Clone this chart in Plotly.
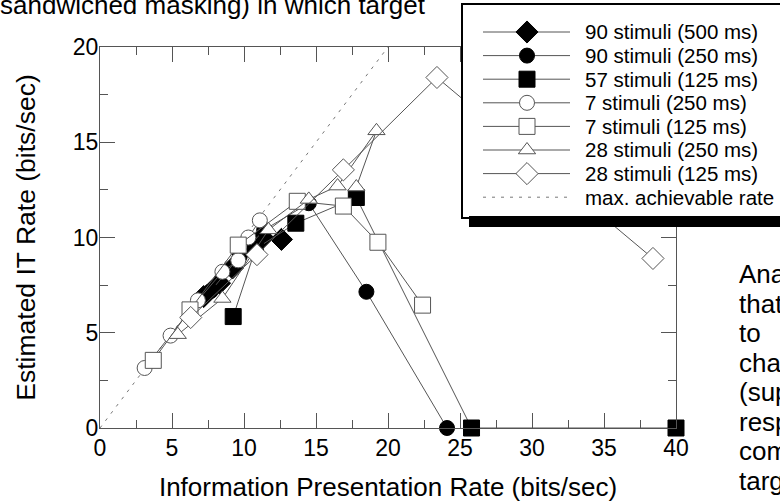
import plotly.graph_objects as go

FONT = "Liberation Sans, Arial, sans-serif"

# ---- data ----
names = ["90 stimuli (500 ms)", "90 stimuli (250 ms)", "57 stimuli (125 ms)",
         "7 stimuli (250 ms)", "7 stimuli (125 ms)", "28 stimuli (250 ms)",
         "28 stimuli (125 ms)"]

d500_90_x = [7.2, 8.3, 9.2, 11.3, 12.6]
d500_90_y = [6.9, 7.6, 8.4, 10.0, 9.9]

c250_90_x = [7.7, 9.7, 11.4, 14.5, 18.5, 24.1]
c250_90_y = [7.2, 9.0, 10.4, 11.8, 7.15, 0.0]

s125_57_x = [9.25, 10.8, 13.6, 17.8, 25.8, 40.0]
s125_57_y = [5.85, 9.4, 10.75, 12.1, 0.0, 0.0]

c250_7_x = [3.1, 4.9, 6.8, 8.5, 9.6, 10.3, 11.1]
c250_7_y = [3.15, 4.85, 6.7, 8.2, 8.8, 10.0, 10.9]

s125_7_x = [3.7, 6.25, 9.6, 13.7, 16.9, 19.3, 22.4]
s125_7_y = [3.55, 6.2, 9.6, 11.9, 11.65, 9.75, 6.45]

t250_28_x = [5.4, 8.5, 11.7, 14.5, 16.5, 19.2, 17.8]
t250_28_y = [4.9, 6.8, 10.4, 12.0, 12.7, 15.6, 12.65]

d125_28_x = [6.3, 10.9, 16.9, 23.4, 38.4]
d125_28_y = [5.8, 9.1, 13.55, 18.4, 8.9]

max_rate_name = "max. achievable rate"
max_rate_x = [0, 20]
max_rate_y = [0, 20]

x_ticks = [0, 5, 10, 15, 20, 25, 30, 35, 40]
y_ticks = [0, 5, 10, 15, 20]

# ---- styles ----
LINE_C = "#555555"
DASH_C = "#777777"
series = [
    (d500_90_x, d500_90_y, "diamond", 17, "black", "black"),
    (c250_90_x, c250_90_y, "circle", 15, "black", "black"),
    (s125_57_x, s125_57_y, "square", 16, "black", "black"),
    (c250_7_x, c250_7_y, "circle", 15, "white", LINE_C),
    (s125_7_x, s125_7_y, "square", 16, "white", LINE_C),
    (t250_28_x, t250_28_y, "triangle-up", 15, "white", LINE_C),
    (d125_28_x, d125_28_y, "diamond", 17, "white", LINE_C),
]

W, H = 780, 504
L, R, T, B = 100, 676, 47, 428          # plot box in page pixels
LG_L, LG_T, LG_B = 463, 5, 217          # legend box in page pixels

fig = go.Figure()

# dashed reference line first (under the data)
fig.add_trace(go.Scatter(
    x=max_rate_x, y=max_rate_y, mode="lines", showlegend=False,
    line=dict(color=DASH_C, width=1, dash="3px,6px"),
    xaxis="x", yaxis="y", hoverinfo="skip"))

for name, (xs, ys, sym, size, fill, edge) in zip(names, series):
    fig.add_trace(go.Scatter(
        x=xs, y=ys, name=name, mode="lines+markers", showlegend=False,
        line=dict(color=LINE_C, width=1), opacity=1,
        marker=dict(symbol=sym, size=size, color=fill, opacity=1,
                    line=dict(color=edge, width=1)),
        cliponaxis=False, xaxis="x", yaxis="y"))

# ---- legend drawn as its own small panel (covers the plot like the original) ----
row_y0, row_dy = 32, 23.6
line_x0, line_x1, mark_x, text_x = 483, 570, 527, 583
LEG_FS = 20.5
for i, (name, (xs, ys, sym, size, fill, edge)) in enumerate(zip(names, series)):
    yy = row_y0 + row_dy * i
    fig.add_trace(go.Scatter(
        x=[line_x0, line_x1], y=[yy, yy], mode="lines",
        showlegend=False, hoverinfo="skip",
        line=dict(color=LINE_C, width=1),
        xaxis="x2", yaxis="y2"))
    fig.add_trace(go.Scatter(
        x=[mark_x], y=[yy], mode="markers", showlegend=False, hoverinfo="skip",
        marker=dict(symbol=sym, size=size, color=fill, opacity=1,
                    line=dict(color=edge, width=1)),
        cliponaxis=False, xaxis="x2", yaxis="y2"))
    fig.add_annotation(text=name, xref="x2", yref="y2", x=text_x, y=yy,
                       xanchor="left", yanchor="middle", showarrow=False,
                       font=dict(family=FONT, size=LEG_FS, color="black"))
yy = row_y0 + row_dy * len(names)
fig.add_trace(go.Scatter(
    x=[line_x0, line_x1], y=[yy, yy], mode="lines", showlegend=False,
    hoverinfo="skip", line=dict(color=DASH_C, width=1, dash="3px,6px"),
    xaxis="x2", yaxis="y2"))
fig.add_annotation(text=max_rate_name, xref="x2", yref="y2", x=text_x, y=yy,
                   xanchor="left", yanchor="middle", showarrow=False,
                   font=dict(family=FONT, size=LEG_FS, color="black"))

axis_common = dict(
    showline=True, linecolor=LINE_C, linewidth=1, mirror="ticks",
    ticks="inside", ticklen=15, tickcolor=LINE_C, tickwidth=1,
    showgrid=False, zeroline=False,
    tickfont=dict(family=FONT, size=23, color="black"),
    minor=dict(ticks="inside", ticklen=8, tickcolor=LINE_C, dtick=2.5, showgrid=False),
)

fig.update_layout(
    xaxis=dict(domain=[L / W, R / W], range=[0, 40], tickvals=x_ticks,
               ticktext=[str(v) for v in x_ticks], ticklabelstandoff=-1,
               title=dict(text="Information Presentation Rate (bits/sec)",
                          font=dict(family=FONT, size=26, color="black"), standoff=18),
               **axis_common),
    yaxis=dict(domain=[1 - B / H, 1 - T / H], range=[0, 20], tickvals=y_ticks,
               ticktext=[str(v) for v in y_ticks], ticklabelstandoff=-4,
               title=dict(text="Estimated IT Rate (bits/sec)",
                          font=dict(family=FONT, size=26.5, color="black"), standoff=29),
               **axis_common),
    xaxis2=dict(domain=[LG_L / W, 1], range=[LG_L, W], anchor="y2",
                showline=True, linecolor="black", linewidth=2, mirror=True,
                showticklabels=False, ticks="", showgrid=False, zeroline=False,
                fixedrange=True),
    yaxis2=dict(domain=[1 - LG_B / H, 1 - LG_T / H], range=[LG_B, LG_T], anchor="x2",
                showline=True, linecolor="black", linewidth=2, mirror=False,
                showticklabels=False, ticks="", showgrid=False, zeroline=False,
                fixedrange=True),
)

# legend drop shadow (strip below the legend box)
fig.add_shape(type="rect", xref="paper", yref="paper",
              x0=(LG_L + 6) / W, x1=1.05,
              y0=1 - 227 / H, y1=1 - (LG_B - 1) / H,
              fillcolor="black", line=dict(width=0), layer="above")

# surrounding document text
fig.add_annotation(text="sandwiched masking) in which target", xref="paper", yref="paper",
                   x=-2 / W, y=1 - 5 / H, xanchor="left", yanchor="middle",
                   showarrow=False, font=dict(family=FONT, size=26, color="black"))
side_words = ["Ana", "that", "to", "cha", "(sup", "resp", "com", "targ"]
for i, wd in enumerate(side_words):
    fig.add_annotation(text=wd, xref="paper", yref="paper",
                       x=737 / W, y=1 - (274 + 29.5 * i) / H,
                       xanchor="left", yanchor="middle", showarrow=False,
                       font=dict(family=FONT, size=26, color="black"))

fig.update_layout(
    width=W, height=H,
    margin=dict(l=0, r=0, t=0, b=0, autoexpand=False),
    paper_bgcolor="white", plot_bgcolor="white",
    showlegend=False, hovermode=False,
    font=dict(family=FONT, color="black"),
)

fig.write_html("out.html", config={"displayModeBar": False, "staticPlot": True},
               post_script="document.body.style.margin='0';")
